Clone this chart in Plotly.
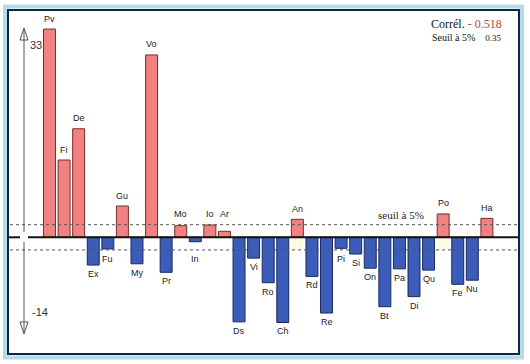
import plotly.graph_objects as go

# ---- data ----
categories = ["Pv", "Fi", "De", "Ex", "Fu", "Gu", "My", "Vo", "Pr", "Mo", "In",
              "Io", "Ar", "Ds", "Vi", "Ro", "Ch", "An", "Rd", "Re", "Pi", "Si",
              "On", "Bt", "Pa", "Di", "Qu", "Po", "Fe", "Nu", "Ha"]
values = [33.0, 12.25, 17.2, -4.4, -1.85, 4.96, -4.2, 28.9, -5.55, 1.84, -0.7,
          1.95, 0.95, -13.4, -3.3, -7.2, -13.5, 2.85, -6.2, -12.0, -1.75, -2.65,
          -4.9, -11.0, -5.0, -9.4, -5.2, 3.7, -7.45, -6.8, 3.0]
threshold = 2.0
highlight_cats = ["An", "Po"]
highlight_vals = [-2.0, -2.0]
correl_text = "- 0.518"
seuil_text = "0.35"

# ---- styles ----
POS_FILL, POS_LINE = "#F28282", "#7a2a2a"
NEG_FILL, NEG_LINE = "#3B5CB8", "#1b2a5c"

W, H = 530, 364
L, R, T, B = 8, 519, 10, 354          # plot area in pixels
pw, ph = R - L, B - T
def px(x): return (x - L) / pw
def py(y): return (B - y) / ph

fig = go.Figure()

fig.add_trace(go.Bar(
    x=highlight_cats, y=highlight_vals,
    marker=dict(color="#fbfbe2", line=dict(width=0)),
    hoverinfo="skip", showlegend=False))

fig.add_trace(go.Bar(
    x=categories, y=values,
    marker=dict(color=[POS_FILL if v >= 0 else NEG_FILL for v in values],
                line=dict(color=[POS_LINE if v >= 0 else NEG_LINE for v in values], width=1)),
    showlegend=False))

annotations = []
for c, v in zip(categories, values):
    pos = v >= 0
    yl = max(abs(v), threshold) * (1 if pos else -1)
    annotations.append(dict(x=c, y=yl, xref="x", yref="y", text=c, showarrow=False,
                            yanchor="middle", yshift=10.5 if pos else -9,
                            font=dict(family="Liberation Sans", size=9, color="#222")))

annotations += [
    dict(x=px(504), y=py(24), xref="paper", yref="paper", xanchor="right", yanchor="middle",
         showarrow=False,
         text="Corrél. <span style='color:#b04848'>" + correl_text + "</span>",
         font=dict(family="Liberation Serif", size=12, color="#111")),
    dict(x=px(504), y=py(37), xref="paper", yref="paper", xanchor="right", yanchor="middle",
         showarrow=False,
         text="Seuil à 5%&nbsp;&nbsp;&nbsp;&nbsp;<span style='font-size:9px'>" + seuil_text + "</span>",
         font=dict(family="Liberation Serif", size=10, color="#111")),
    dict(x=px(401), y=py(215), xref="paper", yref="paper", xanchor="center", yanchor="middle",
         showarrow=False,
         text="seuil à 5%", font=dict(family="Liberation Serif", size=11, color="#222")),
    dict(x=px(28), y=py(45), xref="paper", yref="paper", xanchor="left", yanchor="middle",
         showarrow=False,
         text=str(round(max(values))), font=dict(family="Liberation Sans", size=11, color="#333")),
    dict(x=px(30), y=py(312), xref="paper", yref="paper", xanchor="left", yanchor="middle",
         showarrow=False,
         text=str(round(min(values))), font=dict(family="Liberation Sans", size=11, color="#333")),
]

shapes = [
    # dashed threshold lines
    dict(type="line", xref="paper", yref="y", x0=px(10), x1=px(518), y0=threshold, y1=threshold,
         line=dict(color="#555", width=1, dash="3px,3px")),
    dict(type="line", xref="paper", yref="y", x0=px(10), x1=px(518), y0=-threshold, y1=-threshold,
         line=dict(color="#555", width=1, dash="3px,3px")),
    # zero line (broken at the axis)
    dict(type="line", xref="paper", yref="y", x0=0, x1=px(20), y0=0, y1=0,
         line=dict(color="#111", width=2)),
    dict(type="line", xref="paper", yref="y", x0=px(28), x1=1, y0=0, y1=0,
         line=dict(color="#111", width=2)),
    # vertical axis line (broken at zero)
    dict(type="line", xref="paper", yref="paper", x0=px(24), x1=px(24), y0=py(29), y1=py(232),
         line=dict(color="#555", width=1)),
    dict(type="line", xref="paper", yref="paper", x0=px(24), x1=px(24), y0=py(242), y1=py(333),
         line=dict(color="#555", width=1)),
    # arrowheads
    dict(type="path", xref="paper", yref="paper",
         path=f"M {px(20)} {py(40)} L {px(24)} {py(28)} L {px(28)} {py(40)} Z",
         line=dict(color="#555", width=1), fillcolor="rgba(0,0,0,0)"),
    dict(type="path", xref="paper", yref="paper",
         path=f"M {px(20)} {py(322)} L {px(24)} {py(334)} L {px(28)} {py(322)} Z",
         line=dict(color="#555", width=1), fillcolor="rgba(0,0,0,0)"),
    # frame
    dict(type="rect", xref="paper", yref="paper", x0=px(5), x1=px(522), y0=py(6.5), y1=py(357.5),
         line=dict(color="#b5dbe8", width=4), layer="below"),
    dict(type="rect", xref="paper", yref="paper", x0=0, x1=1, y0=0, y1=1,
         line=dict(color="#102448", width=2)),
]

ymax = (237.3 - T) / 6.31
ymin = -(B - 237.3) / 6.31
x0 = (L - 49.5) / 14.58
x1 = (R - 49.5) / 14.58

fig.update_layout(
    width=W, height=H,
    margin=dict(l=L, r=W - R, t=T, b=H - B, pad=0),
    paper_bgcolor="white", plot_bgcolor="white",
    barmode="overlay", bargap=0.18,
    xaxis=dict(visible=False, range=[x0, x1], type="category",
               categoryorder="array", categoryarray=categories),
    yaxis=dict(visible=False, range=[ymin, ymax]),
    annotations=annotations, shapes=shapes,
)

fig.write_html("out.html", config={"displayModeBar": False},
               post_script="document.body.style.margin='0';")
